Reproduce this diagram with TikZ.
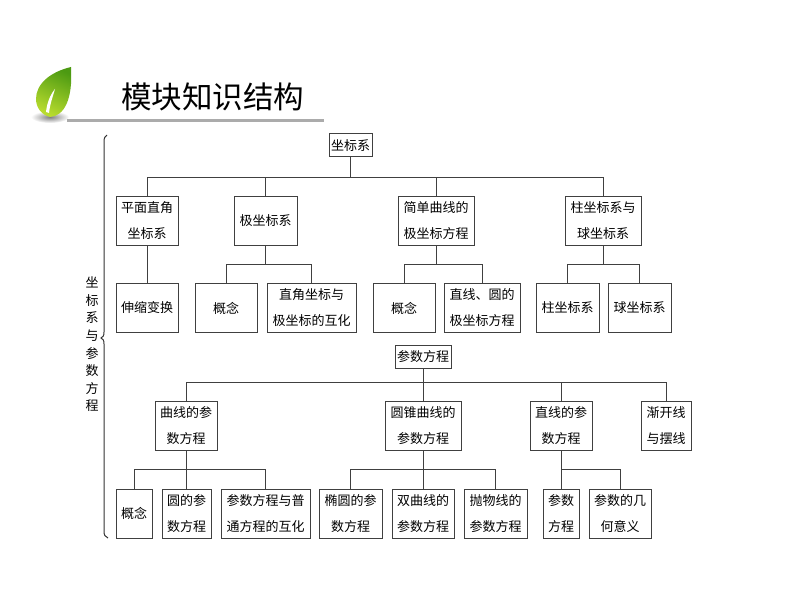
\documentclass[tikz,border=0pt]{standalone}
\usepackage{fontspec}
\setmainfont{Noto Sans CJK SC}
\usetikzlibrary{positioning}
\definecolor{linegray}{HTML}{404040}
\definecolor{rulegray}{HTML}{ABABAB}
\definecolor{leafdark}{HTML}{4C9A12}
\definecolor{leaflight}{HTML}{B9DC2E}
\tikzset{
  box/.style={draw=linegray, line width=1pt, inner sep=0pt, outer sep=0pt,
    align=center, minimum height=49pt, font=\fontsize{13}{26}\selectfont},
  small/.style={box, minimum height=23pt},
  link/.style={draw=linegray, line width=1pt}
}
\begin{document}
\begin{tikzpicture}[x=1pt,y=-1pt]
\useasboundingbox (0,0) rectangle (794,596);

% Title and leaf
\shade[inner color=black!50, outer color=white] (50,117) ellipse (19 and 6);
\shade[top color=leafdark, bottom color=leaflight, shading angle=-25]
  (71,67) .. controls (50,72) and (36,84) .. (36,99)
  .. controls (36,108) and (42,115) .. (50,117)
  .. controls (64,116) and (73,100) .. (71,67) -- cycle;
\fill[white] (46,112) .. controls (47,103) and (50,95) .. (55,89)
  .. controls (53,96) and (50,104) .. (49,113) -- cycle;
\node[inner sep=0pt, font=\fontsize{30.5}{32}\selectfont] (title) at (212.5,97) {模块知识结构};
\coordinate (ruleL) at (67,120.5);
\coordinate (ruleR) at (324,120.5);
\draw[rulegray, line width=2.4pt] (ruleL) -- (ruleR);

% Brace and side label
\draw[black!80, line width=1pt] (107,135) .. controls (105,136) and (104,138) .. (104,142)
  -- (104,332) .. controls (104,336) and (103,337) .. (101,338)
  .. controls (103,339) and (104,340) .. (104,344)
  -- (104,531) .. controls (104,535) and (105,537) .. (108,538);
\node[inner sep=0pt, align=center, font=\fontsize{13}{17.6}\selectfont] (side) at (92,344.5)
  {坐\\标\\系\\与\\参\\数\\方\\程};

% Upper tree
\node[small, minimum width=43pt] (zbx) at (350.5,145.5) {坐标系};
\node[box, minimum width=62pt] (pmzj) at (147,220.5) {平面直角\\坐标系};
\node[box, minimum width=63pt] (jzb) at (265.5,220.5) {极坐标系};
\node[box, minimum width=76pt] (jdqx) at (436,220.5) {简单曲线的\\极坐标方程};
\node[box, minimum width=76pt] (zzb) at (603,220.5) {柱坐标系与\\球坐标系};

\node[box, minimum width=62pt] (ssbh) at (147,308) {伸缩变换};
\node[box, minimum width=62pt] (gn1) at (226,308) {概念};
\node[box, minimum width=89pt, right=10pt of gn1] (hh1) {直角坐标与\\极坐标的互化};
\node[box, minimum width=62pt] (gn2) at (404,308) {概念};
\node[box, minimum width=76pt, right=9pt of gn2] (zxy) {直线、圆的\\极坐标方程};
\node[box, minimum width=63pt] (zzx) at (567.5,308) {柱坐标系};
\node[box, minimum width=63pt, right=9pt of zzx] (qzx) {球坐标系};

\coordinate (busA) at (350.5,177);
\coordinate (busJ) at (265.5,264);
\coordinate (busD) at (436,264);
\coordinate (busZ) at (603,264);
\draw[link] (zbx.south) -- (busA);
\foreach \n in {pmzj,jzb,jdqx,zzb} \draw[link] (busA) -| (\n.north);
\draw[link] (pmzj.south) -- (ssbh.north);
\draw[link] (jzb.south) -- (busJ);
\draw[link] (jdqx.south) -- (busD);
\draw[link] (zzb.south) -- (busZ);
\foreach \n in {gn1,hh1} \draw[link] (busJ) -| (\n.north);
\foreach \n in {gn2,zxy} \draw[link] (busD) -| (\n.north);
\foreach \n in {zzx,qzx} \draw[link] (busZ) -| (\n.north);

% Lower tree
\node[small, minimum width=56pt] (csfc) at (423,356.5) {参数方程};
\node[box, minimum width=62pt] (qxc) at (186,426) {曲线的参\\数方程};
\node[box, minimum width=76pt] (yzq) at (423,426) {圆锥曲线的\\参数方程};
\node[box, minimum width=62pt] (zxc) at (561,426) {直线的参\\数方程};
\node[box, minimum width=50pt] (jkx) at (666,426) {渐开线\\与摆线};

\node[box, minimum width=36pt] (gn3) at (134,513.5) {概念};
\node[box, minimum width=49pt, right=10pt of gn3] (yc) {圆的参\\数方程};
\node[box, minimum width=89pt, right=10pt of yc] (pth) {参数方程与普\\通方程的互化};
\node[box, minimum width=63pt, right=9pt of pth] (ty) {椭圆的参\\数方程};
\node[box, minimum width=62pt, right=10pt of ty] (sqx) {双曲线的\\参数方程};
\node[box, minimum width=63pt, right=10pt of sqx] (pwx) {抛物线的\\参数方程};
\node[box, minimum width=36pt, right=16pt of pwx] (cs) {参数\\方程};
\node[box, minimum width=62pt, right=10pt of cs] (jhy) {参数的几\\何意义};

\coordinate (busB) at (423,382);
\coordinate (busQ) at (186,469);
\coordinate (busY) at (423,469);
\coordinate (busX) at (561,469);
\draw[link] (csfc.south) -- (busB);
\foreach \n in {qxc,yzq,zxc,jkx} \draw[link] (busB) -| (\n.north);
\draw[link] (qxc.south) -- (busQ);
\draw[link] (yzq.south) -- (busY);
\draw[link] (zxc.south) -- (busX);
\foreach \n in {gn3,yc,pth} \draw[link] (busQ) -| (\n.north);
\foreach \n in {ty,sqx,pwx} \draw[link] (busY) -| (\n.north);
\foreach \n in {cs,jhy} \draw[link] (busX) -| (\n.north);
\end{tikzpicture}
\end{document}
